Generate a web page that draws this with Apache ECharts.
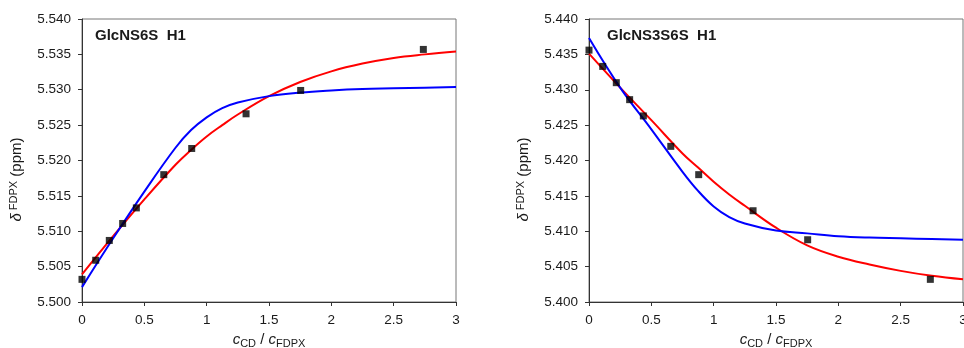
<!DOCTYPE html>
<html>
<head>
<meta charset="utf-8">
<script src="https://cdn.jsdelivr.net/npm/echarts@6/dist/echarts.min.js"></script>
<style>
html,body{margin:0;padding:0;background:#fff;}
#chart{width:964px;height:348px;}
</style>
</head>
<body>
<div id="chart"></div>
<script>
// ---- data ----
var ratioPts = [0, 0.11, 0.219, 0.326, 0.436, 0.656, 0.88, 1.316, 1.754, 2.738];
var glcNS6S_obs = [5.5032, 5.5059, 5.5087, 5.5111, 5.5133, 5.5180, 5.5217, 5.5266, 5.5299, 5.5357];
var glcNS3S6S_obs = [5.4356, 5.4333, 5.4310, 5.4286, 5.4263, 5.4220, 5.4180, 5.4129, 5.4088, 5.4032];

var fitX = [0, 0.25, 0.5, 0.75, 0.875, 1, 1.125, 1.25, 1.5, 1.75, 2, 2.25, 2.5, 2.75, 3];
var glcNS6S_red = [5.5039, 5.5093, 5.5145, 5.5194, 5.5215, 5.5234, 5.5250, 5.5265, 5.5291, 5.5311, 5.5326, 5.5337, 5.5345, 5.5350, 5.5354];
var glcNS6S_blue = [5.5021, 5.5090, 5.5156, 5.5218, 5.5243, 5.5261, 5.5274, 5.5282, 5.5291, 5.5296, 5.5299, 5.5301, 5.5302, 5.5303, 5.5304];
var glcNS3S6S_red = [5.4351, 5.4303, 5.4257, 5.4210, 5.4190, 5.4170, 5.4152, 5.4136, 5.4105, 5.4080, 5.4064, 5.4053, 5.4044, 5.4037, 5.4032];
var glcNS3S6S_blue = [5.4373, 5.4303, 5.4244, 5.4184, 5.4157, 5.4135, 5.4120, 5.4111, 5.4101, 5.4097, 5.4093, 5.4091, 5.4090, 5.4089, 5.4088];

var panelTitles = ['GlcNS6S  H1', 'GlcNS3S6S  H1'];
var yMins = [5.500, 5.400];
var yMaxs = [5.540, 5.440];

function zip(xs, ys) { return xs.map(function (x, i) { return [x, ys[i]]; }); }

var font = 'Liberation Sans, Arial, sans-serif';
var txt = '#1a1a1a';

function xAxis(idx) {
  return {
    type: 'value', gridIndex: idx, min: 0, max: 3, interval: 0.5,
    name: '{i|c}{s|CD}{n| / }{i|c}{s|FDPX}',
    nameLocation: 'middle', nameGap: 26,
    nameTextStyle: {
      rich: {
        i: {fontFamily: font, fontSize: 15, fontStyle: 'italic', color: txt},
        s: {fontFamily: font, fontSize: 11, color: txt, padding: [9, 0, 0, 0]},
        n: {fontFamily: font, fontSize: 15, color: txt}
      }
    },
    axisLine: {show: true, lineStyle: {color: '#333', width: 1}},
    axisTick: {show: true, length: 4, inside: false, lineStyle: {color: '#333'}},
    axisLabel: {fontFamily: font, fontSize: 13.5, color: txt, margin: 11,
      formatter: function (v) { return String(Math.round(v * 10) / 10); }},
    splitLine: {show: false}
  };
}
function yAxis(idx) {
  return {
    type: 'value', gridIndex: idx, min: yMins[idx], max: yMaxs[idx], interval: 0.005,
    name: '{i|δ}{s|FDPX}{n| (ppm)}',
    nameLocation: 'middle', nameGap: 56,
    nameTextStyle: {
      padding: [0, 38, 0, 0],
      rich: {
        i: {fontFamily: font, fontSize: 15, fontStyle: 'italic', color: txt},
        s: {fontFamily: font, fontSize: 11, color: txt, padding: [0, 0, 7, 3]},
        n: {fontFamily: font, fontSize: 15, color: txt}
      }
    },
    axisLine: {show: true, lineStyle: {color: '#333', width: 1}},
    axisTick: {show: true, length: 4, inside: false, lineStyle: {color: '#333'}},
    axisLabel: {fontFamily: font, fontSize: 13.5, color: txt, margin: 11,
      formatter: function (v) { return v.toFixed(3); }},
    splitLine: {show: false}
  };
}
function lineSeries(idx, data, color) {
  return {
    type: 'line', xAxisIndex: idx, yAxisIndex: idx, data: data,
    smooth: 0.4, symbol: 'none', lineStyle: {color: color, width: 2}, z: 2, silent: true
  };
}
function pts(idx, data) {
  return {
    type: 'scatter', xAxisIndex: idx, yAxisIndex: idx, data: data,
    symbol: 'rect', symbolSize: 7, itemStyle: {color: '#000'}, z: 5, silent: true
  };
}

var chart = echarts.init(document.getElementById('chart'), null, {renderer: 'canvas'});
chart.setOption({
  animation: false,
  backgroundColor: '#fff',
  title: [
    {text: panelTitles[0], left: 90, top: 23, textStyle: {fontFamily: font, fontSize: 15, fontWeight: 'bold', color: txt}},
    {text: panelTitles[1], left: 602, top: 23, textStyle: {fontFamily: font, fontSize: 15, fontWeight: 'bold', color: txt}}
  ],
  grid: [
    {left: 82, right: 508, top: 19, bottom: 46, show: true, borderColor: '#777', borderWidth: 1, backgroundColor: 'transparent', outerBoundsMode: 'none', containLabel: false},
    {left: 589, right: 1, top: 19, bottom: 46, show: true, borderColor: '#777', borderWidth: 1, backgroundColor: 'transparent', outerBoundsMode: 'none', containLabel: false}
  ],
  xAxis: [xAxis(0), xAxis(1)],
  yAxis: [yAxis(0), yAxis(1)],
  series: [
    lineSeries(0, zip(fitX, glcNS6S_red), '#ff0000'),
    lineSeries(0, zip(fitX, glcNS6S_blue), '#0000ff'),
    pts(0, zip(ratioPts, glcNS6S_obs)),
    lineSeries(1, zip(fitX, glcNS3S6S_red), '#ff0000'),
    lineSeries(1, zip(fitX, glcNS3S6S_blue), '#0000ff'),
    pts(1, zip(ratioPts, glcNS3S6S_obs))
  ]
});
</script>
</body>
</html>
